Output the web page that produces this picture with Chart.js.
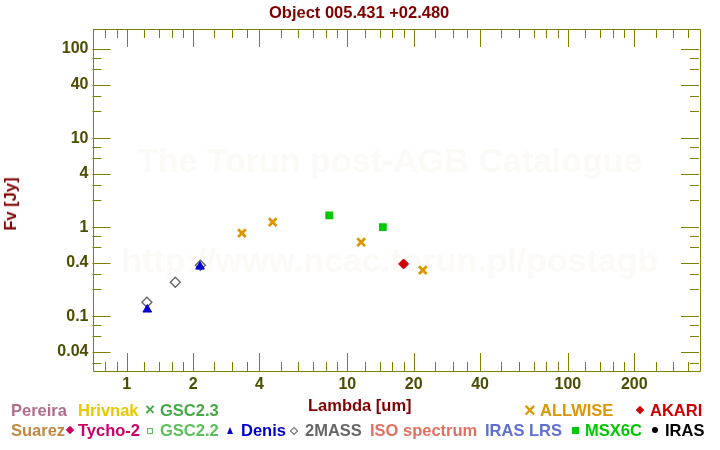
<!DOCTYPE html>
<html>
<head>
<meta charset="utf-8">
<script src="https://cdn.jsdelivr.net/npm/chart.js@4/dist/chart.umd.min.js"></script>
<style>
body { margin: 0; background: #fff; }
#wrap { position: relative; width: 720px; height: 450px; font-family: "Liberation Sans", Arial, sans-serif; font-weight: bold; font-size: 16.5px; }
#wrap canvas { position: absolute; left: 0; top: 0; }
.t { position: absolute; white-space: nowrap; line-height: 16px; }
.m { position: absolute; box-sizing: border-box; }
</style>
</head>
<body>
<div id="wrap">
  <canvas id="sed" width="720" height="450"></canvas>
  <div class="t" style="left:269px;top:4px;color:#800000">Object 005.431 +02.480</div>
  <div class="t" style="left:10px;top:204px;color:#800000;transform:translate(-50%,-50%) rotate(-90deg)">Fv [Jy]</div>
  <div class="t" style="left:308px;top:397px;color:#800000">Lambda [um]</div>

  <!-- legend, row 1 -->
  <div class="t" style="left:11px;top:402px;color:#b06e8c">Pereira</div>
  <div class="t" style="left:78px;top:402px;color:#e8c800">Hrivnak</div>
  <div class="t" style="left:145px;top:402px;color:#46a846;font-size:17px">×</div>
  <div class="t" style="left:160px;top:402px;color:#46a846">GSC2.3</div>
  <div class="t" style="left:524px;top:402px;color:#dc9600;font-size:20px">×</div>
  <div class="t" style="left:540px;top:402px;color:#dc9600">ALLWISE</div>
  <div class="m" style="left:637px;top:407px;width:6px;height:6px;background:#cc0000;transform:rotate(45deg)"></div>
  <div class="t" style="left:650px;top:402px;color:#cc0000">AKARI</div>

  <!-- legend, row 2 -->
  <div class="t" style="left:11px;top:422px;color:#c08840">Suarez</div>
  <div class="m" style="left:67px;top:427px;width:6px;height:6px;background:#cc0066;transform:rotate(45deg)"></div>
  <div class="t" style="left:78px;top:422px;color:#cc0066">Tycho-2</div>
  <div class="m" style="left:147px;top:428px;width:6px;height:6px;border:1.5px solid #5cc05c"></div>
  <div class="t" style="left:160px;top:422px;color:#5cc05c">GSC2.2</div>
  <div class="m" style="left:227px;top:427px;width:0;height:0;border-left:3.5px solid transparent;border-right:3.5px solid transparent;border-bottom:7px solid #0000cc"></div>
  <div class="t" style="left:241px;top:422px;color:#0000cc">Denis</div>
  <div class="m" style="left:291px;top:428px;width:6px;height:6px;border:1.3px solid #666;transform:rotate(45deg)"></div>
  <div class="t" style="left:305px;top:422px;color:#666666">2MASS</div>
  <div class="t" style="left:370px;top:422px;color:#e07060">ISO spectrum</div>
  <div class="t" style="left:485px;top:422px;color:#6070d0">IRAS LRS</div>
  <div class="m" style="left:572px;top:427px;width:7px;height:7px;background:#00c800"></div>
  <div class="t" style="left:585px;top:422px;color:#00c800">MSX6C</div>
  <div class="m" style="left:652px;top:427px;width:6px;height:6px;border-radius:50%;background:#000"></div>
  <div class="t" style="left:665px;top:422px;color:#000">IRAS</div>
</div>
<script>
// photometry: wavelength [um] and flux [Jy]
var twomassLambda = [1.235, 1.662, 2.159];
var twomassFlux = [0.144, 0.241, 0.375];
var denisLambda = [1.24, 2.15];
var denisFlux = [0.119, 0.361];
var allwiseLambda = [3.33, 4.59, 11.56, 22.0];
var allwiseFlux = [0.856, 1.14, 0.678, 0.329];
var msxLambda = [8.28, 14.5];
var msxFlux = [1.36, 1.0];
var akariLambda = [18.0];
var akariFlux = [0.387];

// labelled (long) ticks
var xTickValues = [1, 2, 4, 10, 20, 40, 100, 200];
var yTickValues = [0.04, 0.1, 0.4, 1, 4, 10, 40, 100];

var axisColor = '#808000';
var tickColor = '#4d4d00';
var labelFont = {family: '"Liberation Sans", Arial, sans-serif', size: 16, weight: 'bold'};

// mantissas of long / short tick marks within a decade
var xMajorSteps = [1, 2, 4];
var xMinorSteps = [1.2, 1.4, 1.6, 1.8, 2.5, 3, 3.5, 5, 6, 7, 8, 9];
var yMajorSteps = [1, 4];
var yMinorSteps = [2, 3, 6, 8];

function points(xs, ys) {
    return xs.map(function (v, i) { return {x: v, y: ys[i]}; });
}

function decadeValues(steps, min, max) {
    var out = [];
    for (var e = -3; e <= 4; e++) {
        steps.forEach(function (m) {
            var v = m * Math.pow(10, e);
            if (v > min && v < max) out.push(v);
        });
    }
    return out;
}

var watermark = {
    id: 'watermark',
    beforeDatasetsDraw: function (chart) {
        var ctx = chart.ctx, a = chart.chartArea;
        var cx = (a.left + a.right) / 2 - 6;
        ctx.save();
        ctx.fillStyle = '#fcfaf6';
        ctx.font = 'bold 34px "Liberation Sans", Arial, sans-serif';
        ctx.textAlign = 'center';
        ctx.textBaseline = 'middle';
        ctx.fillText('The Torun post-AGB Catalogue', cx, 163);
        ctx.fillText('http://www.ncac.torun.pl/postagb', cx, 263);
        ctx.restore();
    }
};

// frame with inward tick marks on all four sides
var frameTicks = {
    id: 'frameTicks',
    afterDraw: function (chart) {
        var ctx = chart.ctx, a = chart.chartArea;
        var xs = chart.scales.x, ys = chart.scales.y;
        ctx.save();
        ctx.strokeStyle = axisColor;
        ctx.lineWidth = 1;
        ctx.beginPath();
        ctx.rect(Math.round(a.left) + 0.5, Math.round(a.top) + 0.5,
            Math.round(a.right - a.left), Math.round(a.bottom - a.top));
        function xTick(v, len) {
            var p = Math.round(xs.getPixelForValue(v)) + 0.5;
            ctx.moveTo(p, a.bottom); ctx.lineTo(p, a.bottom - len);
            ctx.moveTo(p, a.top); ctx.lineTo(p, a.top + len);
        }
        function yTick(v, len) {
            var p = Math.round(ys.getPixelForValue(v)) + 0.5;
            ctx.moveTo(a.left, p); ctx.lineTo(a.left + len, p);
            ctx.moveTo(a.right, p); ctx.lineTo(a.right - len, p);
        }
        decadeValues(xMajorSteps, xs.min, xs.max).forEach(function (v) { xTick(v, 18); });
        decadeValues(xMinorSteps, xs.min, xs.max).forEach(function (v) { xTick(v, 9); });
        decadeValues(yMajorSteps, ys.min, ys.max).forEach(function (v) { yTick(v, 18); });
        decadeValues(yMinorSteps, ys.min, ys.max).forEach(function (v) { yTick(v, 9); });
        ctx.stroke();
        ctx.restore();
    }
};

var ctx = document.getElementById('sed').getContext('2d');
var sedChart = new Chart(ctx, {
    type: 'scatter',
    data: {
        datasets: [
            {
                label: 'Denis',
                data: points(denisLambda, denisFlux),
                pointStyle: 'triangle',
                radius: 5,
                backgroundColor: '#0000cc',
                borderColor: '#0000cc',
                borderWidth: 1
            },
            {
                label: '2MASS',
                data: points(twomassLambda, twomassFlux),
                pointStyle: 'rectRot',
                radius: 5,
                backgroundColor: 'rgba(255,255,255,0)',
                borderColor: '#666666',
                borderWidth: 1.4
            },
            {
                label: 'ALLWISE',
                data: points(allwiseLambda, allwiseFlux),
                pointStyle: 'crossRot',
                radius: 5.5,
                borderColor: '#dc9600',
                borderWidth: 2.8
            },
            {
                label: 'MSX6C',
                data: points(msxLambda, msxFlux),
                pointStyle: 'rect',
                radius: 5.5,
                backgroundColor: '#00c800',
                borderColor: '#00c800',
                borderWidth: 0
            },
            {
                label: 'AKARI',
                data: points(akariLambda, akariFlux),
                pointStyle: 'rectRot',
                radius: 5,
                backgroundColor: '#cc0000',
                borderColor: '#cc0000',
                borderWidth: 1
            }
        ]
    },
    options: {
        responsive: false,
        animation: false,
        events: [],
        layout: {padding: {left: 0, right: 21, top: 29, bottom: 0}},
        plugins: {
            legend: {display: false},
            title: {display: false},
            tooltip: {enabled: false}
        },
        scales: {
            x: {
                type: 'logarithmic',
                min: 0.727,
                max: 393,
                afterBuildTicks: function (s) {
                    s.ticks = xTickValues.map(function (v) { return {value: v}; });
                },
                afterFit: function (s) { s.height = 79; },
                grid: {display: false, drawTicks: false},
                border: {display: false},
                ticks: {
                    color: tickColor,
                    font: labelFont,
                    padding: 4,
                    autoSkip: false,
                    maxRotation: 0,
                    callback: function (v) { return String(v); }
                }
            },
            y: {
                type: 'logarithmic',
                min: 0.0243,
                max: 168,
                afterBuildTicks: function (s) {
                    s.ticks = yTickValues.map(function (v) { return {value: v}; });
                },
                afterFit: function (s) { s.width = 92.5; },
                grid: {display: false, drawTicks: false},
                border: {display: false},
                ticks: {
                    color: tickColor,
                    font: labelFont,
                    padding: 4,
                    autoSkip: false,
                    callback: function (v) { return String(v); }
                }
            }
        }
    },
    plugins: [watermark, frameTicks]
});
</script>
</body>
</html>
